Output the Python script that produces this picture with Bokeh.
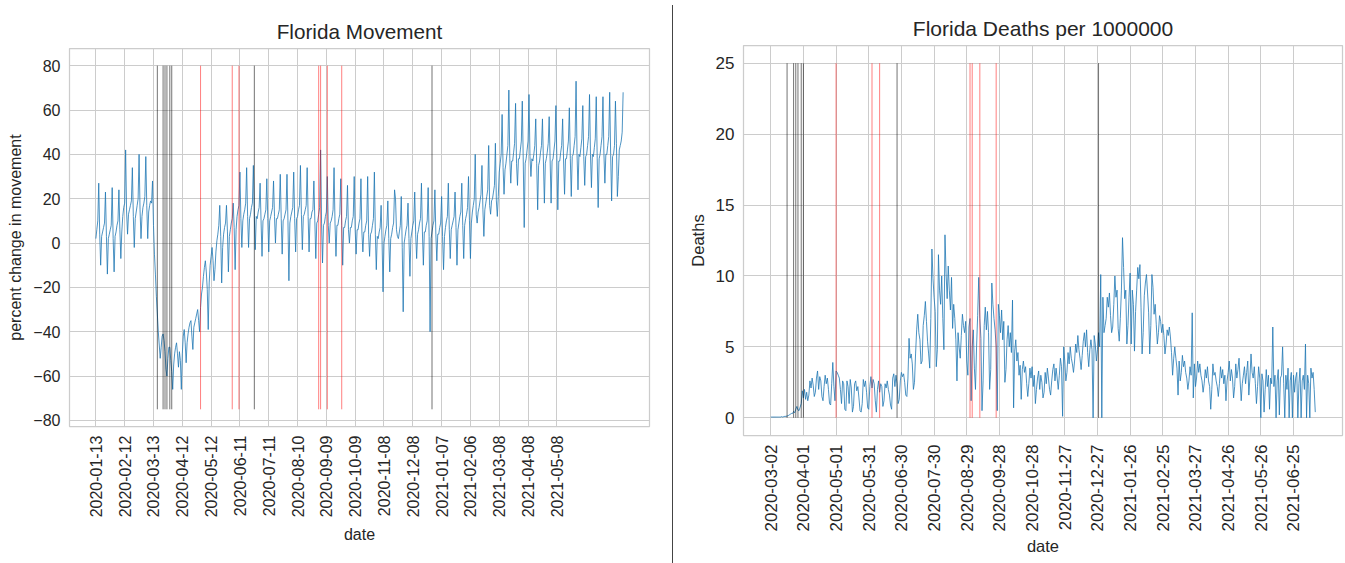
import math
import datetime as dt
from bokeh.plotting import figure
from bokeh.models import FixedTicker, Range1d, Div
from bokeh.layouts import row, column
from bokeh.embed import file_html
from bokeh.resources import INLINE

# ---------------- data ----------------
movement_start = "2020-01-13"
movement_missing_dates = ["2021-03-14"]
movement = [
    2, 6, 10, 27, 4, -10, 3,
    5, 7, 9, 23, 3, -14, 2,
    4, 6, 8, 25, 2, -13, 3,
    5, 8, 10, 24, 6, -7, 5,
    12, 16, 18, 42, 14, 4, 13,
    15, 17, 19, 34, 12, -2, 11,
    14, 17, 20, 40, 15, 2, 12,
    16, 18, 21, 39, 17, 2, 14,
    17, 19, 18, 28, 8, -5, -14,
    -24, -32, -40, -46, -52, -47, -42,
    -41, -44, -49, -57, -60, -52, -47,
    -47, -53, -58, -66, -55, -50, -47,
    -45, -50, -56, -49, -53, -66, -50,
    -42, -39, -45, -54, -45, -41, -38,
    -36, -35, -42, -48, -38, -36, -34,
    -32, -30, -35, -40, -29, -23, -20,
    -15, -11, -8, -13, -21, -39, -18,
    -10, -6, -2, -8, -17, -12, -4,
    1, 4, 8, 17, 3, -18, -2,
    4, 7, 9, 17, 5, -13, 3,
    6, 9, 11, 18, 7, -12, 6,
    12, 15, 17, 32, 11, -2, 10,
    13, 15, 18, 34, 12, -2, 11,
    13, 16, 18, 35, 12, -3, 12,
    11, 14, 16, 27, 10, -6, 10,
    11, 13, 15, 29, 11, -4, 10,
    12, 14, 16, 28, 12, 0, 11,
    11, 13, 15, 31, 11, -5, 10,
    11, 13, 15, 31, 10, -17, 9,
    12, 14, 16, 32, 11, -4, 11,
    12, 15, 17, 35, 13, -3, 12,
    13, 15, 17, 34, 12, -4, 11,
    11, 14, 15, 28, 10, -7, 9,
    10, 13, 16, 42, 9, -9, 8,
    9, 12, 14, 30, 8, 0, 9,
    10, 12, 15, 34, 9, -6, 8,
    8, 11, 13, 29, 8, -10, 7,
    7, 10, 12, 26, 6, 0, 7,
    7, 10, 12, 30, 6, -5, 6,
    6, 9, 11, 29, 5, -4, 5,
    5, 8, 10, 30, 4, -6, 4,
    5, 8, 11, 32, 4, -12, 3,
    2, 5, 7, 17, 1, -22, 0,
    3, 6, 8, 19, 2, -13, 2,
    4, 7, 9, 24, 20, 6, 3,
    2, 5, 8, 21, -2, -31, 0,
    3, 6, 8, 18, 2, -15, 2,
    5, 8, 10, 23, 4, -7, 4,
    6, 9, 11, 27, 5, -10, 5,
    5, 8, 10, 25, 3, -40, 2,
    5, 8, 10, 24, 4, -8, 4,
    4, 7, 9, 21, 3, -12, 3,
    7, 10, 12, 27, 6, -7, 6,
    8, 10, 12, 23, 7, -10, 6,
    9, 12, 14, 27, 8, -7, 8,
    11, 13, 16, 30, 10, -7, 9,
    14, 17, 20, 40, 13, 9, 14,
    16, 19, 22, 35, 15, 3, 15,
    18, 21, 24, 44, 17, 13, 19,
    20, 23, 26, 45, 19, 12, 21,
    32, 36, 40, 58, 34, 22, 33,
    36, 40, 44, 69, 38, 27, 37,
    37, 41, 45, 63, 36, 26, 38,
    38, 42, 46, 64, 37, 7, 36,
    38, 42, 46, 67, 39, 30, 38,
    37, 40, 44, 56, 36, 15, 35,
    37, 41, 44, 56, 37, 18, 36,
    38, 41, 45, 57, 37, 18, 37,
    38, 42, 46, 62, 38, 15, 37,
    37, 41, 44, 56, 37, 22, 38,
    38, 42, 46, 61, 38, 21, 39,
    40, 44, 48, 73, 40, 24, 40,
    39, 43, 47, 62, 39, 26, 39,
    40, 44, 48, 67, 40, 25, 40,
    39, 43, 47, 66, 38, 16, 38,
    40, 44, 48, 66, 40, 27, 40,
    40, 44, 48, 68, 40, 19, 39,
    40, 44, 64, 45, 21, 30, 42,
    44, 46, 50, 68,
]

deaths_start = "2020-03-02"
deaths = [
    0.05, 0.05, 0.05, 0.05, 0.05, 0.05, 0.05,
    0.05, 0.05, 0.05, 0.08, 0.05, 0.08, 0.1,
    0.1, 0.12, 0.15, 0.2, 0.25, 0.3, 0.3,
    0.45, 0.35, 0.6, 0.8, 0.55, 0.5, 0.75,
    1.0, 1.9, 1.4, 2.0, 1.3, 1.8, 1.2,
    1.6, 2.6, 2.1, 2.8, 2.3, 1.5, 1.8,
    2.8, 3.3, 2.0, 2.9, 2.6, 1.5, 1.2,
    2.2, 3.0, 2.4, 2.8, 2.0, 1.0, 0.9,
    2.4, 3.9, 2.2, 1.2, 3.3, 3.2, 3.0,
    2.8, 2.0, 1.0, 2.6, 2.4, 0.6, 0.5,
    2.6, 2.2, 1.0, 2.7, 2.1, 0.4, 0.8,
    2.4, 2.6, 1.9, 2.2, 1.4, 0.5, 0.4,
    1.0, 2.7, 2.2, 2.6, 1.8, 0.7, 0.6,
    2.2, 2.9, 2.1, 2.7, 2.4, 1.2, 0.4,
    2.0, 2.6, 1.8, 2.4, 2.2, 0.8, 1.2,
    2.4, 2.1, 2.6, 2.0, 1.6, 0.9, 0.6,
    2.8, 3.1, 2.2, 3.0, 2.4, 1.0, 1.3,
    2.6, 3.2, 2.9, 3.1, 2.5, 1.6, 1.5,
    2.8, 5.6, 4.2, 4.5, 3.8, 2.0, 2.5,
    4.5, 6.2, 7.3, 6.0, 5.5, 3.8, 4.0,
    6.5, 7.2, 8.2, 6.8, 5.4, 4.5, 3.5,
    7.0, 11.9, 9.8, 8.5, 7.5, 3.6, 4.8,
    11.5, 9.0, 8.0, 10.0, 7.0, 4.8, 12.9,
    10.2, 8.4, 10.7, 9.0, 7.6, 9.9, 6.3,
    8.0, 7.0, 5.5, 2.6, 6.0, 5.0, 4.2,
    5.8, 7.3, 6.5, 6.0, 6.8, 4.0, 3.0,
    6.4, 7.0, 1.2, 5.0, 6.2, 3.5, 2.0,
    5.0, 7.2, 9.9, 7.0, 5.6, 0.5, 2.6,
    6.5, 7.8, 6.2, 7.5, 6.0, 2.0, 3.4,
    9.5, 8.0, 7.0, 6.2, 5.0, 0.5, 8.0,
    7.2, 6.0, 7.6, 5.5, 6.8, 2.5, 3.4,
    5.5, 6.5, 5.0, 6.0, 4.6, 8.3, 0.7,
    4.7, 5.5, 4.0, 4.6, 3.0, 3.7, 1.3,
    3.4, 4.0, 3.2, 3.6, 2.4, 1.5, 2.4,
    3.5, 2.8, 3.6, 2.2, 3.0, 1.0, 2.0,
    2.8, 3.3, 2.0, 3.0, 2.5, 1.4, 1.8,
    3.2, 2.4, 3.5, 2.8, 2.0, 1.6, 2.6,
    3.4, 3.8, 2.6, 3.5, 2.8, 2.0, 3.0,
    4.2, 3.6, 0.1, 5.0, 4.0, 2.6, 3.2,
    4.6, 3.8, 5.0, 4.2, 3.8, 3.2, 4.0,
    5.2, 4.6, 5.8, 4.8, 4.2, 3.4, 4.4,
    5.4, 6.0, 5.0, 6.2, 4.6, 3.6, 4.8,
    5.5, 4.8, 0.0, 5.8, 5.2, 4.0, 4.8,
    6.0, 5.0, 10.1, 0.0, 8.5, 6.0, 6.5,
    7.0, 8.5, 7.8, 8.8, 7.2, 6.0, 6.4,
    8.0, 10.0, 8.5, 9.0, 6.3, 5.4, 7.0,
    9.0, 12.7, 10.6, 8.4, 9.0, 5.2, 6.5,
    8.5, 10.2, 5.2, 9.0, 8.0, 4.7, 7.5,
    9.0, 10.6, 9.8, 10.8, 7.8, 4.5, 6.0,
    8.6, 9.5, 10.1, 8.8, 7.4, 4.5, 6.5,
    10.1, 9.2, 7.3, 8.0, 6.6, 5.2, 6.0,
    7.2, 6.8, 6.0, 6.6, 5.8, 4.5, 5.2,
    6.2, 5.8, 6.4, 5.7, 4.6, 3.0, 4.2,
    5.0, 4.2, 3.5, 1.6, 4.0, 2.6, 3.2,
    4.4, 3.6, 4.0, 3.2, 2.8, 2.0, 2.6,
    3.6, 3.0, 7.4, 1.4, 3.8, 2.2, 2.8,
    4.0, 3.2, 3.8, 3.0, 2.6, 1.8, 2.4,
    3.4, 2.8, 3.6, 2.6, 2.2, 0.6, 2.0,
    3.8, 3.0, 3.2, 2.6, 2.2, 1.5, 2.4,
    3.6, 2.8, 3.4, 2.4, 3.0, 1.2, 2.6,
    3.2, 4.0, 2.6, 3.4, 2.8, 1.4, 2.2,
    3.8, 2.8, 3.4, 4.2, 2.6, 1.2, 2.4,
    3.0, 3.6, 2.4, 3.2, 4.0, 1.6, 2.8,
    4.5, 3.2, 2.8, 3.6, 2.4, 1.0, 2.2,
    3.6, 2.8, 0.0, 3.1, 2.6, 0.4, 2.0,
    3.4, 2.2, 3.0, 0.6, 2.8, 2.4, 6.4,
    2.2, 3.0, 0.0, 2.6, 3.4, 0.2, 2.8,
    3.0, 5.0, 2.4, 0.0, 3.0, 2.0, 3.5,
    0.0, 2.6, 3.2, 0.0, 3.0, 1.8, 2.8,
    3.2, 0.0, 2.4, 3.5, 0.0, 2.6, 3.0,
    2.0, 5.2, 0.0, 3.0, 2.4, 0.0, 3.5,
    2.8, 3.2, 2.0, 0.4,
]

movement_tick_labels = ["2020-01-13", "2020-02-12", "2020-03-13", "2020-04-12",
                        "2020-05-12", "2020-06-11", "2020-07-11", "2020-08-10",
                        "2020-09-09", "2020-10-09", "2020-11-08", "2020-12-08",
                        "2021-01-07", "2021-02-06", "2021-03-08", "2021-04-08",
                        "2021-05-08"]
deaths_tick_labels = ["2020-03-02", "2020-04-01", "2020-05-01", "2020-05-31",
                      "2020-06-30", "2020-07-30", "2020-08-29", "2020-09-28",
                      "2020-10-28", "2020-11-27", "2020-12-27", "2021-01-26",
                      "2021-02-25", "2021-03-27", "2021-04-26", "2021-05-26",
                      "2021-06-25"]
movement_yticks = [-80, -60, -40, -20, 0, 20, 40, 60, 80]
deaths_yticks = [0, 5, 10, 15, 20, 25]

black_events = ["2020-03-17", "2020-03-23", "2020-03-25", "2020-03-27",
                "2020-03-30", "2020-04-01", "2020-06-26", "2020-12-28"]
red_events = ["2020-05-01", "2020-06-03", "2020-06-10", "2020-09-01",
              "2020-09-03", "2020-09-10", "2020-09-25"]
movement_event_span = (-75, 80)
deaths_event_span = (0, 25)

FONT = "Liberation Sans"
TEXT = "#262626"
GRID = "#cccccc"


def date_list(start, n, missing=()):
    d = dt.date.fromisoformat(start)
    out = []
    while len(out) < n:
        s = d.isoformat()
        if s not in missing:
            out.append(s)
        d += dt.timedelta(days=1)
    return out


def minus(v):
    return str(v).replace("-", "\u2212")


def make_panel(title, values, dates, tick_labels, yticks, ylabel, span,
               frame_w, frame_h, borders, fs, xlabel_standoff, title_standoff):
    n = len(values)
    xs = list(range(n))
    pad_x = 0.05 * (n - 1)
    lo, hi = span
    pad_y = 0.05 * (hi - lo)
    p = figure(frame_width=frame_w, frame_height=frame_h,
               x_range=Range1d(-pad_x, n - 1 + pad_x),
               y_range=Range1d(lo - pad_y, hi + pad_y),
               output_backend="svg", toolbar_location=None,
               min_border_left=borders[0], min_border_right=borders[1],
               min_border_top=borders[2], min_border_bottom=borders[3],
               background_fill_color="white", border_fill_color="white")
    p.title.text = title
    p.title.align = "center"
    p.title.text_font = FONT
    p.title.text_font_size = fs["title"]
    p.title.text_font_style = "normal"
    p.title.text_color = TEXT
    p.title.standoff = title_standoff

    tick_pos = [dates.index(t) for t in tick_labels]
    p.xaxis.ticker = FixedTicker(ticks=tick_pos)
    p.xaxis.major_label_overrides = {i: t for i, t in zip(tick_pos, tick_labels)}
    p.xaxis.major_label_orientation = math.pi / 2
    p.yaxis.ticker = FixedTicker(ticks=yticks)
    p.yaxis.major_label_overrides = {v: minus(v) for v in yticks}
    p.xaxis.axis_label = "date"
    p.yaxis.axis_label = ylabel
    for ax in (p.xaxis[0], p.yaxis[0]):
        ax.axis_line_color = None
        ax.major_tick_line_color = None
        ax.minor_tick_line_color = None
        ax.major_tick_out = 0
        ax.major_tick_in = 0
        ax.major_label_text_font = FONT
        ax.major_label_text_font_size = fs["tick"]
        ax.major_label_text_color = TEXT
        ax.axis_label_text_font = FONT
        ax.axis_label_text_font_size = fs["label"]
        ax.axis_label_text_font_style = "normal"
        ax.axis_label_text_color = TEXT
    p.xaxis.major_label_standoff = 9
    p.yaxis.major_label_standoff = 9
    p.xaxis.axis_label_standoff = xlabel_standoff
    p.yaxis.axis_label_standoff = 6
    p.xgrid.grid_line_color = GRID
    p.ygrid.grid_line_color = GRID
    p.xgrid.grid_line_width = 1
    p.ygrid.grid_line_width = 1
    p.outline_line_color = GRID
    p.outline_line_width = 1.25

    p.line(xs, values, line_color="#1f77b4", line_width=0.8)

    bx = [dates.index(d) for d in black_events]
    rx = [dates.index(d) for d in red_events]
    p.segment(x0=bx, y0=[lo] * len(bx), x1=bx, y1=[hi] * len(bx),
              line_color="black", line_alpha=0.55, line_width=1)
    p.segment(x0=rx, y0=[lo] * len(rx), x1=rx, y1=[hi] * len(rx),
              line_color="red", line_alpha=0.5, line_width=1)
    return p


mv_dates = date_list(movement_start, len(movement), movement_missing_dates)
dt_dates = date_list(deaths_start, len(deaths))

p1 = make_panel("Florida Movement", movement, mv_dates, movement_tick_labels,
                movement_yticks, "percent change in movement", movement_event_span,
                580, 378, (69, 15, 48, 121),
                {"title": "20.7px", "tick": "16px", "label": "16px"}, 6, 12)
p2 = make_panel("Florida Deaths per 1000000", deaths, dt_dates, deaths_tick_labels,
                deaths_yticks, "Deaths", deaths_event_span,
                599, 390, (70, 2, 45, 118),
                {"title": "21px", "tick": "17px", "label": "16.5px"}, 3, 12)

sep = Div(text="", width=9, height=558, margin=(5, 0, 0, 0),
          styles={"border-right": "1px solid #444444", "box-sizing": "border-box"})

layout = row(column(p1), sep, column(p2))
open("out.html", "w").write(file_html(layout, INLINE))
